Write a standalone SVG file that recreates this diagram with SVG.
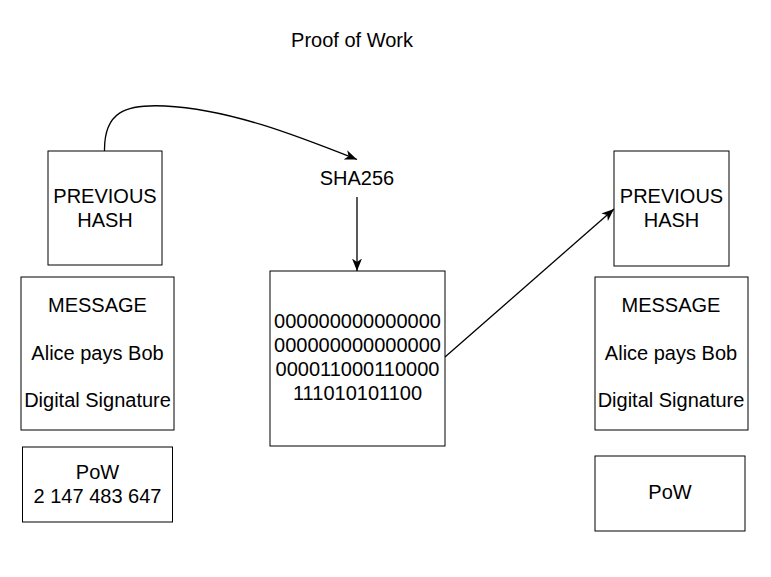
<svg xmlns="http://www.w3.org/2000/svg" width="771" height="577" viewBox="0 0 771 577">
<style>
  .box { fill: #ffffff; stroke: #000000; stroke-width: 1; }
  .t { font-family: "Liberation Sans", Arial, sans-serif; font-size: 20px; fill: #000000; text-anchor: middle; }
  .edge { fill: none; stroke: #000000; stroke-width: 1.3; }
</style>
<defs>
  <marker id="arrow" markerUnits="userSpaceOnUse" markerWidth="14" markerHeight="12" refX="12.5" refY="5" orient="auto">
    <path d="M0,0 L12.5,5 L0,10 L3.5,5 z" fill="#000000"/>
  </marker>
</defs>
<rect width="771" height="577" fill="#ffffff"/>

<g id="title">
  <text class="t" x="352" y="47">Proof of Work</text>
</g>

<g id="prev-hash-left">
  <rect class="box" x="48" y="151" width="114" height="114"/>
  <text class="t" x="105" y="203">PREVIOUS</text>
  <text class="t" x="105" y="227">HASH</text>
</g>

<g id="message-left">
  <rect class="box" x="21" y="277" width="153" height="153"/>
  <text class="t" x="97.5" y="312">MESSAGE</text>
  <text class="t" x="97.5" y="360">Alice pays Bob</text>
  <text class="t" x="97.5" y="407">Digital Signature</text>
</g>

<g id="pow-left">
  <rect class="box" x="22.5" y="447" width="150" height="75"/>
  <text class="t" x="97.5" y="479">PoW</text>
  <text class="t" x="97.5" y="503">2 147 483 647</text>
</g>

<g id="sha256">
  <text class="t" x="357" y="185">SHA256</text>
</g>

<g id="hash-result">
  <rect class="box" x="270" y="271" width="175" height="175"/>
  <text class="t" x="357.5" y="328">000000000000000</text>
  <text class="t" x="357.5" y="352">000000000000000</text>
  <text class="t" x="357.5" y="376">000011000110000</text>
  <text class="t" x="357.5" y="400">111010101100</text>
</g>

<g id="prev-hash-right">
  <rect class="box" x="614" y="151" width="115" height="115"/>
  <text class="t" x="671.5" y="203">PREVIOUS</text>
  <text class="t" x="671.5" y="227">HASH</text>
</g>

<g id="message-right">
  <rect class="box" x="595" y="277" width="153" height="153"/>
  <text class="t" x="671" y="312">MESSAGE</text>
  <text class="t" x="671" y="360">Alice pays Bob</text>
  <text class="t" x="671" y="407">Digital Signature</text>
</g>

<g id="pow-right">
  <rect class="box" x="595" y="456" width="150" height="75"/>
  <text class="t" x="670" y="499">PoW</text>
</g>

<g id="connectors">
  <path class="edge" d="M104.5 151 C104 112 125 104 165 106 C230 109 300 137 357 159.5" marker-end="url(#arrow)"/>
  <path class="edge" d="M357 197 L357 271" marker-end="url(#arrow)"/>
  <path class="edge" d="M445 357 L614 209" marker-end="url(#arrow)"/>
</g>
</svg>
